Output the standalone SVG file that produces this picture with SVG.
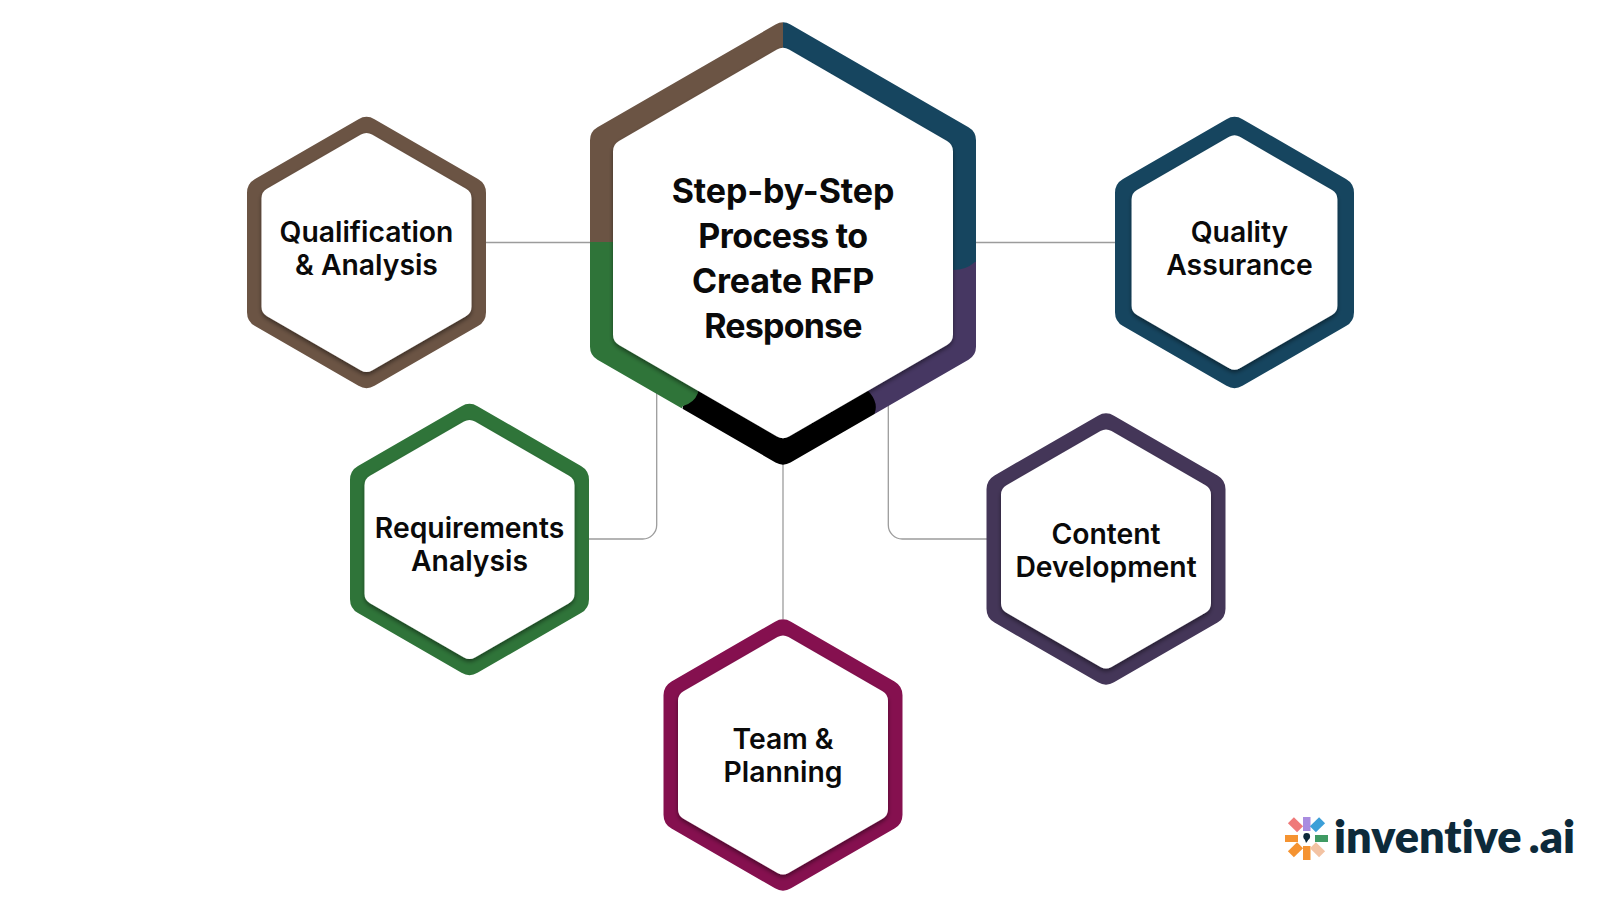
<svg xmlns="http://www.w3.org/2000/svg" width="1600" height="900" viewBox="0 0 1600 900">
<style>
.o{stroke-width:32;stroke-linejoin:round}
.i{fill:#fff;stroke:#fff;stroke-width:22;stroke-linejoin:round;filter:url(#sh)}
.c{fill:none;stroke:#9c9c9c;stroke-width:1.3}
text{font-family:Inter,"Liberation Sans",sans-serif;text-anchor:middle;fill:#0a0a0a}
.l{font-size:28.3px;font-weight:600}
.t{font-size:34px;font-weight:700;letter-spacing:-.1px}
.b{fill:#6b5444;stroke:#6b5444}.g{fill:#2f7439;stroke:#2f7439}.m{fill:#85104f;stroke:#85104f}.p{fill:#443658;stroke:#443658}.q{fill:#16455f;stroke:#16455f}
</style>
<defs>
<filter id="sh" x="-15%" y="-15%" width="130%" height="130%"><feDropShadow dx="0" dy="2.5" stdDeviation="2" flood-color="#000" flood-opacity=".45"/></filter>
<polygon id="ho" points="0,-119.5 103.5,-59.75 103.5,59.75 0,119.5 -103.5,59.75 -103.5,-59.75"/>
<polygon id="hi" points="0,-108.5 94,-54.25 94,54.25 0,108.5 -94,54.25 -94,-54.25"/>
<mask id="cm" maskUnits="userSpaceOnUse" x="0" y="0" width="1600" height="900"><polygon fill="#fff" stroke="#fff" stroke-width="30" stroke-linejoin="round" points="783,37.5 961,140.25 961,346.75 783,449.5 605,346.75 605,140.25"/></mask>
</defs>
<rect width="1600" height="900" fill="#fff"/>
<g id="connectors">
<path class="c" d="M486 242.500H591"/>
<path class="c" d="M975 242.500H1115"/>
<path class="c" d="M783 463V619"/>
<path class="c" d="M656.700 392V525a14 14 0 0 1-14 14H589"/>
<path class="c" d="M888.300 405V525a14 14 0 0 0 14 14H987"/>
</g>
<g id="node-center">
<g mask="url(#cm)">
<rect x="783" y="200" width="210" height="280" fill="#463762"/>
<path d="M783 10H990V258L975 262Q966 270 953 270H783Z" fill="#16455f"/>
<path d="M783 300L870 393Q878 403 875 412L860 480H670L683 406Z" fill="#000"/>
<path d="M580 242H690L698 393Q694 403 683 406L670 430H580Z" fill="#2f7439"/>
<rect x="580" y="10" width="203" height="232" fill="#6b5444"/>
</g>
<polygon points="783,60 941,151.500 941,334.500 783,426 625,334.500 625,151.500" fill="#fff" stroke="#fff" stroke-width="24" stroke-linejoin="round" filter="url(#sh)"/>
<text class="t" x="783" y="203">Step-by-Step</text>
<text class="t" x="783" y="248" style="letter-spacing:-.6px">Process to</text>
<text class="t" x="783" y="293">Create RFP</text>
<text class="t" x="783" y="338" style="letter-spacing:-.8px">Response</text>
</g>
<g id="node-qualification" transform="translate(366.500 252.500)">
<use href="#ho" class="o b"/><use href="#hi" class="i"/>
<text class="l" y="-10.500">Qualification</text><text class="l" y="22">&amp; Analysis</text>
</g>
<g id="node-quality" transform="translate(1234.500 252.500)">
<use href="#ho" class="o q"/><use href="#hi" class="i" transform="scale(.98)"/>
<text class="l" x="5" y="-10.500">Quality</text><text class="l" x="5" y="22">Assurance</text>
</g>
<g id="node-requirements" transform="translate(469.500 539.500)">
<use href="#ho" class="o g"/><use href="#hi" class="i"/>
<text class="l" y="-2">Requirements</text><text class="l" y="31">Analysis</text>
</g>
<g id="node-content" transform="translate(1106 549)">
<use href="#ho" class="o p"/><use href="#hi" class="i"/>
<text class="l" y="-5">Content</text><text class="l" y="27.500">Development</text>
</g>
<g id="node-team" transform="translate(783 755)">
<use href="#ho" class="o m"/><use href="#hi" class="i"/>
<text class="l" y="-6">Team &amp;</text><text class="l" y="26.500">Planning</text>
</g>
<g id="logo">
<rect x="1303" y="817" width="7.500" height="14" fill="#a98ce0"/>
<rect x="1303" y="846" width="7.500" height="14" fill="#f59331"/>
<rect x="1285" y="835" width="13" height="7" fill="#f59331"/>
<rect x="1315" y="835" width="13" height="7" fill="#3f9a63"/>
<rect x="1289" y="820.500" width="13" height="8.500" fill="#ef7a7a" transform="rotate(45 1295.500 824.750)"/>
<rect x="1311" y="820.500" width="13" height="8.500" fill="#3c9fd8" transform="rotate(-45 1317.500 824.750)"/>
<rect x="1289" y="845.500" width="13" height="8.500" fill="#f59331" transform="rotate(-45 1295.500 849.750)"/>
<rect x="1311" y="845.500" width="13" height="8.500" fill="#f3c3a3" transform="rotate(45 1317.500 849.750)"/>
<circle cx="1306.700" cy="836.500" r="3.400" fill="#0d2a3a"/>
<path d="M1304.500 838.500L1306 843Q1308 841 1309 838Z" fill="#0d2a3a"/>
<text x="1334" y="853" textLength="241" lengthAdjust="spacingAndGlyphs" style="font-family:Lato,'Liberation Sans',sans-serif;font-size:45px;font-weight:800;word-spacing:-3px;font-variant-ligatures:none;text-anchor:start;fill:#0d2a3a">inventive .ai</text>
</g>
</svg>
